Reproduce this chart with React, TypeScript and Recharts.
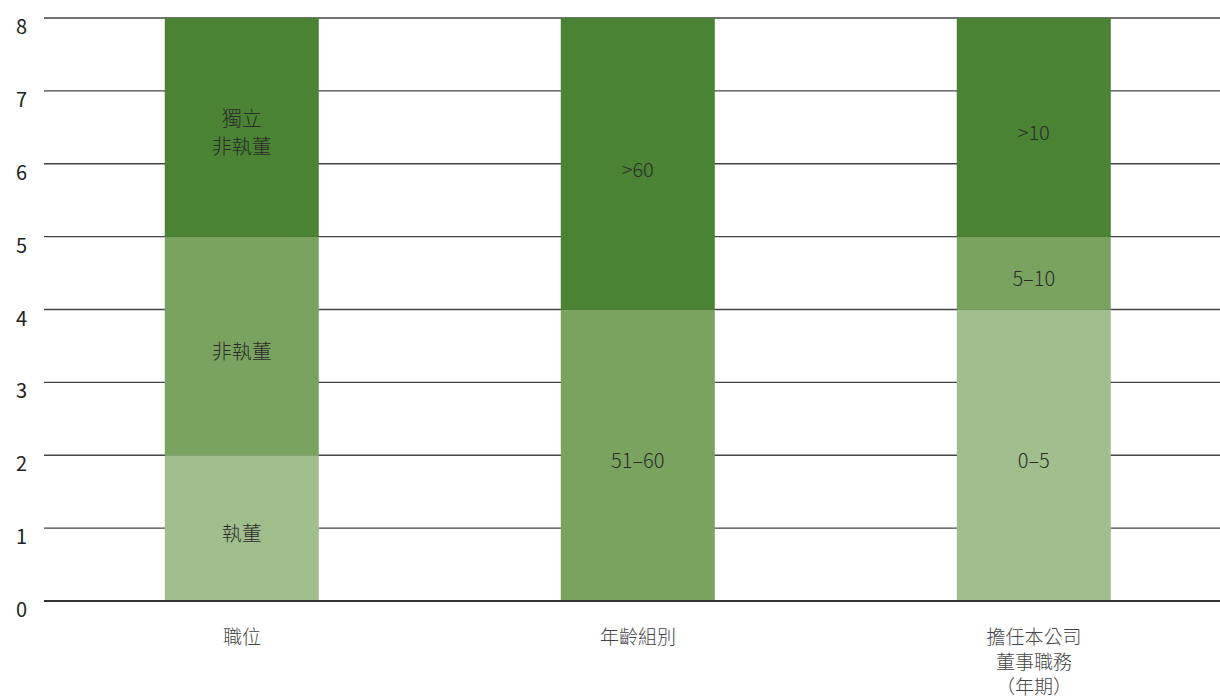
import { Bar, BarChart, CartesianGrid, LabelList, XAxis, YAxis } from 'recharts';

// Board composition: three stacked groupings
const categories = ['職位', '年齡組別', '擔任本公司\n董事職務\n（年期）'];

// bottom (light), middle (medium), top (dark) segments
const lightValues = [2, 0, 4];
const mediumValues = [3, 4, 1];
const darkValues = [3, 4, 3];

const lightLabels = ['執董', '', '0–5'];
const mediumLabels = ['非執董', '51–60', '5–10'];
const darkLabels = ['獨立\n非執董', '>60', '>10'];

const yTicks = [0, 1, 2, 3, 4, 5, 6, 7, 8];

const LIGHT = '#a1bf8d';
const MEDIUM = '#79a35f';
const DARK = '#4a8333';
const FONT = '"Noto Sans CJK TC", "Noto Sans", sans-serif';

const data = categories.map((name, i) => ({
  name,
  light: lightValues[i],
  medium: mediumValues[i],
  dark: darkValues[i],
  lightLabel: lightLabels[i],
  mediumLabel: mediumLabels[i],
  darkLabel: darkLabels[i],
}));

function CategoryTick(props: any) {
  const { x, y, payload } = props;
  const lines = String(payload.value).split('\n');
  return (
    <text
      x={x}
      y={y}
      textAnchor="middle"
      fill="#444"
      fontSize={19}
      fontWeight={300}
      fontFamily={FONT}
    >
      {lines.map((line, i) => (
        <tspan key={i} x={x} dy={i === 0 ? 35 : 25}>
          {line}
        </tspan>
      ))}
    </text>
  );
}

function SegmentLabel(props: any) {
  const { x, y, width, height, value } = props;
  if (!value || !height) return null;
  const lines = String(value).split('\n');
  const lineH = 28;
  const cx = x + width / 2;
  const cy = y + height / 2 + 4 - ((lines.length - 1) * lineH) / 2;
  return (
    <text
      x={cx}
      y={cy}
      textAnchor="middle"
      dominantBaseline="central"
      fill="#2b2b2b"
      fontSize={20}
      fontWeight={300}
      fontFamily={FONT}
    >
      {lines.map((line, i) => (
        <tspan key={i} x={cx} dy={i === 0 ? 0 : lineH}>
          {line}
        </tspan>
      ))}
    </text>
  );
}

export default function App() {
  return (
    <div
      style={{
        position: 'absolute',
        left: 0,
        top: 0,
        width: 1220,
        height: 700,
        overflow: 'hidden',
        background: '#fff',
      }}
    >
      <BarChart
        width={1232}
        height={700}
        data={data}
        margin={{ top: 18, right: 0, bottom: 0, left: 0 }}
        barCategoryGap="30.5%"
      >
        <CartesianGrid vertical={false} stroke="#444" strokeWidth={1.3} />
        <XAxis
          dataKey="name"
          height={99}
          tickLine={false}
          axisLine={{ stroke: '#333', strokeWidth: 2 }}
          tick={<CategoryTick />}
          interval={0}
        />
        <YAxis
          width={44}
          domain={[0, 8]}
          ticks={yTicks}
          axisLine={false}
          tickLine={false}
          tickSize={0}
          tickMargin={17}
          tick={{ fill: '#222', fontSize: 20, fontFamily: FONT, dy: 9 }}
        />
        <Bar dataKey="light" stackId="a" isAnimationActive={false} fill={LIGHT}>
          <LabelList dataKey="lightLabel" content={<SegmentLabel />} />
        </Bar>
        <Bar dataKey="medium" stackId="a" isAnimationActive={false} fill={MEDIUM}>
          <LabelList dataKey="mediumLabel" content={<SegmentLabel />} />
        </Bar>
        <Bar dataKey="dark" stackId="a" isAnimationActive={false} fill={DARK}>
          <LabelList dataKey="darkLabel" content={<SegmentLabel />} />
        </Bar>
      </BarChart>
    </div>
  );
}
